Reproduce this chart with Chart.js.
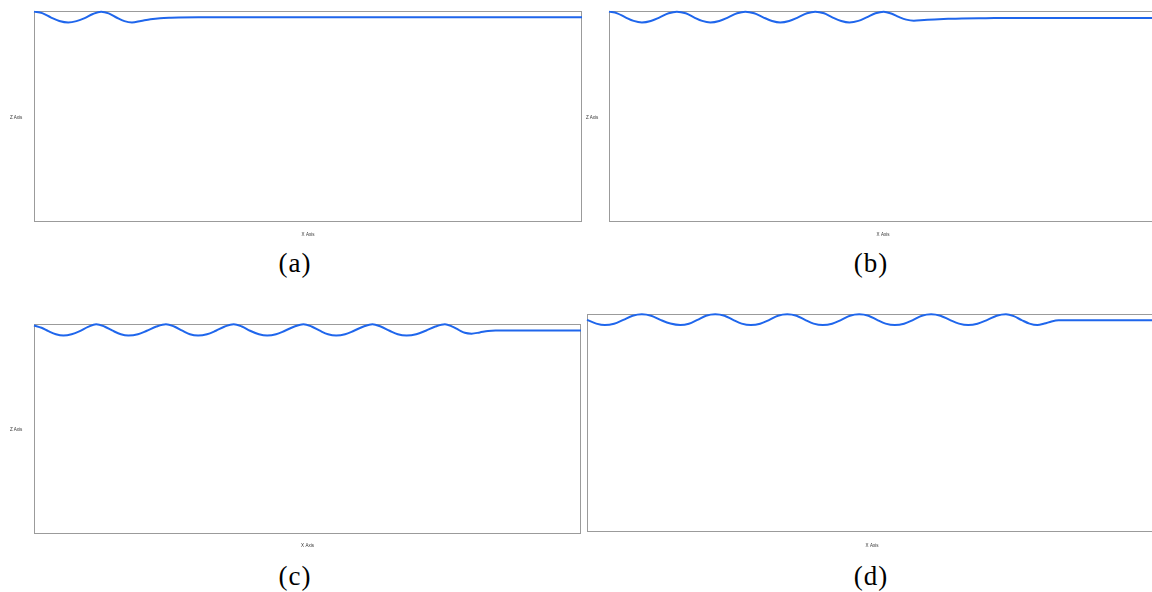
<!DOCTYPE html>
<html>
<head>
<meta charset="utf-8">
<script src="https://cdn.jsdelivr.net/npm/chart.js@4/dist/chart.umd.min.js"></script>
<style>
  html, body { margin: 0; padding: 0; width: 1152px; height: 592px; overflow: hidden; background: #fff; }
  canvas { position: absolute; }
  .zlabel { position: absolute; font-family: "Liberation Sans", Arial, sans-serif; font-size: 4.5px; line-height: 6px; color: #333; white-space: nowrap; }
  .cap { position: absolute; width: 100px; text-align: center; font-family: "Liberation Serif", serif; font-size: 27px; line-height: 27px; letter-spacing: 1px; color: #000; }
</style>
</head>
<body>
<canvas id="panelA" width="600" height="245" style="left:0px;top:0px"></canvas>
<canvas id="panelB" width="600" height="245" style="left:575px;top:0px"></canvas>
<canvas id="panelC" width="600" height="245" style="left:0px;top:313px"></canvas>
<canvas id="panelD" width="600" height="255" style="left:575px;top:303px"></canvas>
<script>
// Free-surface profiles: horizontal distance x and surface elevation z
const distA = [0.00, 0.12, 0.25, 0.37, 0.50, 0.62, 0.74, 0.86, 0.98, 1.09, 1.21, 1.32, 1.43, 1.56, 1.70, 1.84, 2.00, 2.40, 3.00, 8.00];
const elevA = [0.997, 0.990, 0.969, 0.953, 0.946, 0.952, 0.966, 0.986, 0.997, 0.989, 0.968, 0.952, 0.946, 0.953, 0.961, 0.966, 0.968, 0.970, 0.970, 0.970];

const distB = [0.00, 0.12, 0.24, 0.36, 0.48, 0.61, 0.74, 0.87, 0.99, 1.12, 1.24, 1.36, 1.48, 1.61, 1.74, 1.87, 1.99,
               2.12, 2.25, 2.38, 2.50, 2.63, 2.76, 2.89, 3.01, 3.14, 3.26, 3.39, 3.51, 3.64, 3.76, 3.89, 4.01,
               4.12, 4.23, 4.34, 4.45, 4.60, 4.75, 4.95, 5.15, 5.50, 6.00, 8.00];
const elevB = [0.997, 0.989, 0.970, 0.953, 0.946, 0.953, 0.970, 0.989, 0.997, 0.989, 0.970, 0.953, 0.946, 0.953, 0.970, 0.989, 0.997,
               0.989, 0.970, 0.953, 0.946, 0.953, 0.970, 0.989, 0.997, 0.989, 0.970, 0.953, 0.946, 0.953, 0.970, 0.989, 0.997,
               0.988, 0.972, 0.959, 0.954, 0.957, 0.960, 0.963, 0.965, 0.966, 0.967, 0.967];

const distC = [0.00, 0.11, 0.21, 0.32, 0.43, 0.55, 0.67, 0.79, 0.91, 1.03, 1.15, 1.27, 1.38, 1.52, 1.65, 1.79, 1.93,
               2.05, 2.17, 2.28, 2.40, 2.53, 2.66, 2.79, 2.92, 3.04, 3.16, 3.29, 3.41, 3.54, 3.67, 3.81, 3.94,
               4.06, 4.18, 4.30, 4.42, 4.55, 4.68, 4.82, 4.95, 5.07, 5.20, 5.32, 5.45, 5.59, 5.73, 5.87, 6.01,
               6.11, 6.21, 6.30, 6.40, 6.52, 6.64, 6.75, 7.00, 8.00];
const elevC = [0.993, 0.982, 0.966, 0.951, 0.945, 0.951, 0.966, 0.986, 0.999, 0.988, 0.968, 0.951, 0.945, 0.951, 0.968, 0.988, 0.999,
               0.988, 0.968, 0.951, 0.945, 0.951, 0.968, 0.988, 0.999, 0.988, 0.968, 0.951, 0.945, 0.951, 0.968, 0.988, 0.999,
               0.988, 0.968, 0.951, 0.945, 0.951, 0.968, 0.988, 0.999, 0.988, 0.968, 0.951, 0.945, 0.951, 0.968, 0.988, 0.999,
               0.989, 0.972, 0.958, 0.954, 0.960, 0.967, 0.969, 0.969, 0.969];

const distD = [0.00, 0.13, 0.25, 0.38, 0.51, 0.64, 0.77, 0.90, 1.03, 1.17, 1.31, 1.43, 1.55, 1.67, 1.80, 1.93,
               2.05, 2.17, 2.30, 2.43, 2.56, 2.68, 2.81, 2.94, 3.06, 3.18, 3.31, 3.44, 3.57, 3.69, 3.82, 3.95,
               4.07, 4.19, 4.32, 4.45, 4.58, 4.70, 4.83, 4.96, 5.09, 5.22, 5.35, 5.48, 5.62, 5.75, 5.88,
               5.99, 6.10, 6.21, 6.32, 6.42, 6.52, 6.62, 7.00, 8.00];
const elevD = [0.973, 0.956, 0.949, 0.955, 0.973, 0.992, 0.999, 0.992, 0.973, 0.956, 0.949, 0.955, 0.973, 0.992, 0.999, 0.992,
               0.973, 0.956, 0.949, 0.955, 0.973, 0.992, 0.999, 0.992, 0.973, 0.956, 0.949, 0.955, 0.973, 0.992, 0.999, 0.992,
               0.973, 0.956, 0.949, 0.955, 0.973, 0.992, 0.999, 0.992, 0.973, 0.956, 0.949, 0.955, 0.973, 0.992, 0.999,
               0.990, 0.972, 0.956, 0.949, 0.956, 0.966, 0.971, 0.971, 0.971];

const xRange = [0, 8];
const zRange = [0, 1];
const xAxisTitle = 'X Axis';
const zAxisTitle = 'Z Axis';
const captions = ['(a)', '(b)', '(c)', '(d)'];

// Grey frame around the plotting area
const framePlugin = {
  id: 'frame',
  beforeDatasetsDraw(chart) {
    const { ctx, chartArea: a } = chart;
    ctx.save();
    ctx.strokeStyle = '#9b9b9b';
    ctx.lineWidth = 1;
    ctx.strokeRect(a.left + 0.5, a.top + 0.5, a.right - a.left - 1, a.bottom - a.top - 1);
    ctx.restore();
  }
};

function drawPanel(id, xs, zs, pad, titlePad) {
  new Chart(document.getElementById(id), {
    type: 'line',
    data: {
      datasets: [{
        data: xs.map((x, i) => ({ x: x, y: zs[i] })),
        borderColor: 'rgb(31,102,236)',
        borderWidth: 2,
        pointRadius: 0,
        cubicInterpolationMode: 'monotone',
        fill: false,
        clip: false
      }]
    },
    options: {
      responsive: false,
      animation: false,
      events: [],
      layout: { padding: pad },
      plugins: { legend: { display: false }, tooltip: { enabled: false } },
      scales: {
        x: {
          type: 'linear', min: xRange[0], max: xRange[1],
          grid: { display: false, drawTicks: false },
          border: { display: false },
          ticks: { display: false },
          title: {
            display: true, text: xAxisTitle, color: '#333',
            font: { family: 'Liberation Sans', size: 4.5, lineHeight: 1.2 },
            padding: titlePad
          }
        },
        y: { type: 'linear', display: false, min: zRange[0], max: zRange[1] }
      }
    },
    plugins: [framePlugin]
  });
}

drawPanel('panelA', distA, elevA, { left: 34, top: 11, right: 18, bottom: 0 }, { top: 10.3, bottom: 7.3 });
drawPanel('panelB', distB, elevB, { left: 34, top: 11, right: 18, bottom: 0 }, { top: 10.3, bottom: 7.3 });
drawPanel('panelC', distC, elevC, { left: 34, top: 11, right: 19, bottom: 0 }, { top: 9.3, bottom: 9.3 });
drawPanel('panelD', distD, elevD, { left: 12, top: 11, right: 18, bottom: 0 }, { top: 11.3, bottom: 9.3 });

// Horizontal Z-axis labels beside panels (a), (b), (c)
[[10, 115], [586, 115], [10, 427]].forEach(([l, t]) => {
  const d = document.createElement('div');
  d.className = 'zlabel';
  d.style.left = l + 'px';
  d.style.top = t + 'px';
  d.textContent = zAxisTitle;
  document.body.appendChild(d);
});

// Sub-figure captions
[[295, 250], [871, 250], [295, 563], [871, 563]].forEach(([cx, t], i) => {
  const d = document.createElement('div');
  d.className = 'cap';
  d.style.left = (cx - 50) + 'px';
  d.style.top = t + 'px';
  d.textContent = captions[i];
  document.body.appendChild(d);
});
</script>
</body>
</html>
